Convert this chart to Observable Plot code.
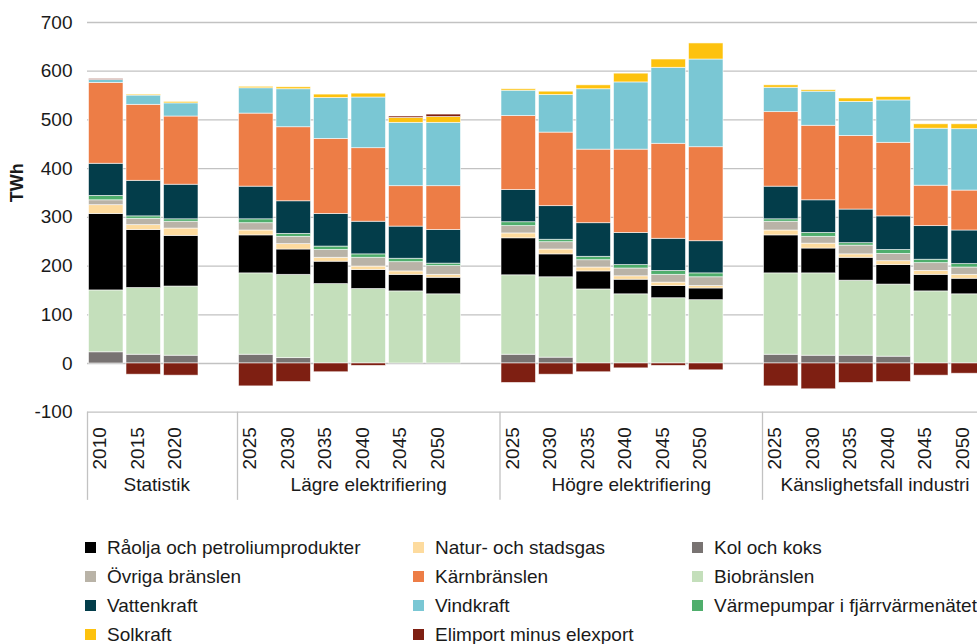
<!DOCTYPE html>
<html>
<head>
<meta charset="utf-8">
<script src="https://cdn.jsdelivr.net/npm/d3@7"></script>
<script src="https://cdn.jsdelivr.net/npm/@observablehq/plot@0.6"></script>
<style>
  body { margin: 0; background: #fff; font-family: "Liberation Sans", Arial, Helvetica, sans-serif; color: #1a1a1a; }
  #wrap { position: relative; width: 977px; height: 644px; overflow: hidden; background: #fff; }
  #chart { position: absolute; left: 0; top: 0; }
  #legend { position: absolute; left: 0; top: 533px; width: 977px; height: 111px; }
  .item { position: absolute; height: 29px; display: flex; align-items: center; font-size: 19px; white-space: nowrap; color: #1a1a1a; }
  .sw { width: 11px; height: 11px; margin-right: 11px; flex: none; }
</style>
</head>
<body>
<div id="wrap">
  <div id="chart"></div>
  <div id="legend"></div>
</div>
<script>
// ---------- Data ----------
const scenarios = ["Statistik", "Lägre elektrifiering", "Högre elektrifiering", "Känslighetsfall industri"];
const scenarioOfBar = [
  "Statistik","Statistik","Statistik",
  "Lägre elektrifiering","Lägre elektrifiering","Lägre elektrifiering","Lägre elektrifiering","Lägre elektrifiering","Lägre elektrifiering",
  "Högre elektrifiering","Högre elektrifiering","Högre elektrifiering","Högre elektrifiering","Högre elektrifiering","Högre elektrifiering",
  "Känslighetsfall industri","Känslighetsfall industri","Känslighetsfall industri","Känslighetsfall industri","Känslighetsfall industri","Känslighetsfall industri"
];
const yearOfBar = [
  "2010","2015","2020",
  "2025","2030","2035","2040","2045","2050",
  "2025","2030","2035","2040","2045","2050",
  "2025","2030","2035","2040","2045","2050"
];

// TWh per series, one value per bar (same order as above)
const kol      = [23, 18, 16,   18, 11,  0,  0,  0,  0,   18, 12,  0,  0,  0,  0,   18, 16, 16, 14,  0,  0];
const bio      = [127,137,142,  167,171,163,153,148,142,  163,165,152,142,134,130,  167,169,154,148,148,142];
const olja     = [157,119,104,  78, 52, 46, 39, 34, 34,   76, 47, 37, 30, 25, 24,   78, 51, 47, 40, 34, 32];
const gas      = [18, 10, 15,   10, 11,  8,  7,  7,  6,   10, 10,  8,  7,  7,  5,   10, 10,  7,  8,  8,  8];
const ovriga   = [10, 13, 14,   15, 15, 16, 18, 19, 18,   15, 15, 15, 16, 16, 18,   18, 14, 18, 15, 16, 15];
const vp       = [9,   5,  5,    8,  6,  7,  7,  7,  5,    8,  5,  7,  7,  8,  8,    5,  8,  5,  8,  7,  7];
const vatten   = [66, 73, 71,   67, 67, 67, 67, 66, 69,   66, 69, 69, 66, 66, 66,   67, 67, 69, 69, 69, 69];
const karn     = [166,156,140,  150,152,154,151, 83, 90,  152,151,151,171,195,193,  153,153,151,151, 83, 82];
const vind     = [6,  19, 27,   52, 78, 84,104,130,130,   52, 77,124,138,156,180,   50, 70, 70, 87,117,126];
const sol      = [0,   2,  3,    3,  4,  7,  8, 10, 12,    3,  7,  8, 18, 17, 33,    5,  3,  7,  7,  9, 10];
const elimport = [2, -23,-25,  -47,-38,-18, -5,  3,  5,  -40,-23,-18,-10, -5,-14,  -47,-53,-40,-38,-25,-21];

const seriesNames = [
  "Kol och koks", "Biobränslen", "Råolja och petroliumprodukter", "Natur- och stadsgas",
  "Övriga bränslen", "Värmepumpar i fjärrvärmenätet", "Vattenkraft", "Kärnbränslen",
  "Vindkraft", "Solkraft", "Elimport minus elexport"
];
const seriesValues = [kol, bio, olja, gas, ovriga, vp, vatten, karn, vind, sol, elimport];
const seriesColors = [
  "#787372", "#c4dfbb", "#000000", "#fddb9e",
  "#b9b3a7", "#4fae6c", "#033d4a", "#ed7d46",
  "#7ac7d4", "#fdc20e", "#7e1f12"
];
const legendOrder = [
  "Råolja och petroliumprodukter", "Natur- och stadsgas", "Kol och koks",
  "Övriga bränslen", "Kärnbränslen", "Biobränslen",
  "Vattenkraft", "Vindkraft", "Värmepumpar i fjärrvärmenätet",
  "Solkraft", "Elimport minus elexport"
];
const yTicks = [-100, 0, 100, 200, 300, 400, 500, 600, 700];

// ---------- Build slots (bars + one empty slot between scenario groups) ----------
const slots = [];
const barSlots = [];
scenarios.forEach((s, gi) => {
  yearOfBar.forEach((yr, i) => {
    if (scenarioOfBar[i] === s) {
      const key = s + "|" + yr;
      slots.push(key);
      barSlots.push({slot: key, year: yr, scenario: s});
    }
  });
  if (gi < scenarios.length - 1) slots.push("gap" + gi);
});

const rows = [];
seriesNames.forEach((name, si) => {
  seriesValues[si].forEach((v, i) => {
    if (v !== 0) rows.push({slot: scenarioOfBar[i] + "|" + yearOfBar[i], series: name, value: v});
  });
});

// ---------- Layout ----------
const W = 977, H = 520, mTop = 22, mLeft = 87, mBottom = 108.3;
const xLeft = 87, step = 37.5;
const xRange = [xLeft, xLeft + step * slots.length];

// group label anchors: centred on the group's slot span
const groupMarks = [];
const groupAdjust = {"Statistik": 13};
scenarios.forEach((s, gi) => {
  const first = slots.indexOf(barSlots.find(b => b.scenario === s).slot);
  let last = first;
  while (last + 1 < slots.length && (slots[last + 1].startsWith(s + "|") || slots[last + 1] === "gap" + gi)) last++;
  const mid = (first + last) / 2;
  const base = Math.floor(mid);
  const dx = groupAdjust[s] !== undefined ? groupAdjust[s] : (mid - base) * step;
  groupMarks.push(Plot.text([s], {
    x: () => slots[base], text: d => d, frameAnchor: "bottom", dy: 79, dx,
    fontSize: 19, fill: "#1a1a1a"
  }));
});

const boundaryKeys = scenarios.map(s => barSlots.find(b => b.scenario === s).slot);

const chart = Plot.plot({
  width: W,
  height: H,
  marginTop: mTop,
  marginLeft: mLeft,
  marginRight: 0,
  marginBottom: mBottom,
  style: {fontFamily: "'Liberation Sans', Arial, Helvetica, sans-serif", fontSize: "19px", color: "#1a1a1a", background: "white"},
  x: {type: "band", domain: slots, range: xRange, round: false, paddingInner: 0.08, paddingOuter: 0.04, axis: null},
  y: {domain: [-100, 700]},
  color: {domain: seriesNames, range: seriesColors},
  marks: [
    Plot.ruleY(yTicks, {stroke: "#c2c2c2", strokeWidth: 1.3}),
    Plot.barY(rows, {x: "slot", y: "value", fill: "series", z: "series", order: seriesNames,
      stroke: "white", strokeWidth: 0.8, strokeOpacity: 0.7}),
    Plot.ruleX(boundaryKeys, {x: d => d, dx: -step / 2, y1: -100, y2: -281, stroke: "#c2c2c2", strokeWidth: 1.3}),
    Plot.axisY({ticks: yTicks, tickSize: 0, tickPadding: 15, label: null, fontSize: 19, tickFormat: d => String(d)}),
    Plot.text(["TWh"], {text: d => d, frameAnchor: "left", dx: -70, dy: -15, rotate: -90, fontWeight: "bold", fontSize: 18, fill: "#1a1a1a"}),
    Plot.text(barSlots, {x: "slot", text: "year", frameAnchor: "bottom", dy: 15, rotate: -90, textAnchor: "end", fontSize: 19, fill: "#1a1a1a"}),
    ...groupMarks
  ]
});
document.getElementById("chart").appendChild(chart);

// ---------- Legend (HTML, 3 columns) ----------
const colX = [85, 413, 692];
const legend = document.getElementById("legend");
legendOrder.forEach((name, i) => {
  const r = Math.floor(i / 3), c = i % 3;
  const item = document.createElement("div");
  item.className = "item";
  item.style.left = colX[c] + "px";
  item.style.top = (r * 29) + "px";
  const sw = document.createElement("span");
  sw.className = "sw";
  sw.style.background = seriesColors[seriesNames.indexOf(name)];
  const label = document.createElement("span");
  label.textContent = name;
  item.appendChild(sw);
  item.appendChild(label);
  legend.appendChild(item);
});
</script>
</body>
</html>
